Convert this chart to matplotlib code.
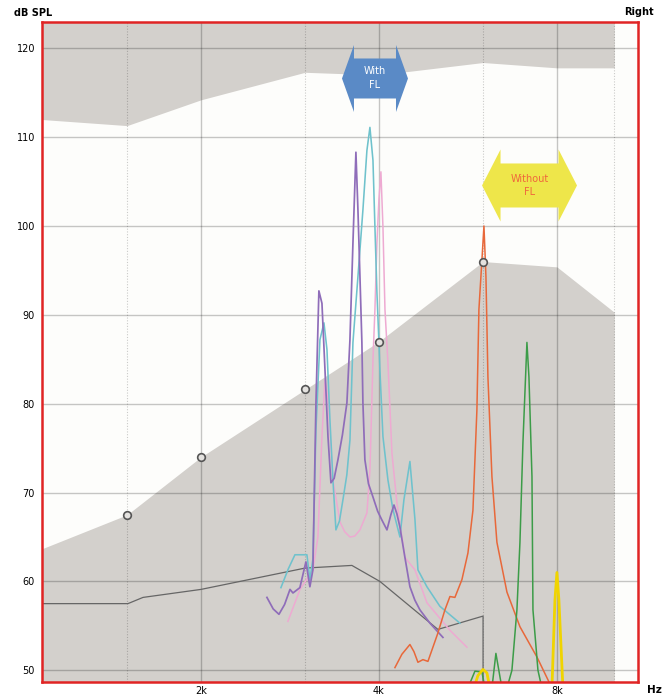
import matplotlib
matplotlib.use('Agg')
import matplotlib.pyplot as plt
from matplotlib.patches import Polygon
from matplotlib.ticker import NullLocator

# shaded bands (Hz / dB SPL)
bandFreq = [1070, 1500, 2000, 3000, 4000, 6000, 8000, 10000]
upperEdge = [112.0, 111.3, 114.2, 117.3, 117.0, 118.4, 117.8, 117.8]
lowerEdge = [63.6, 67.5, 74.0, 81.6, 87.0, 96.0, 95.4, 90.3]

# measured points on the lower band
pointFreq = [1500, 2000, 3000, 4000, 6000]
pointDb = [67.5, 74.0, 81.6, 87.0, 96.0]

# dark gray reference line
refFreq = [1070, 1505, 1596, 2000, 3000, 3600, 4015, 5033, 6000, 6000]
refDb = [57.5, 57.5, 58.2, 59.1, 61.5, 61.8, 60.0, 54.6, 56.1, 48.0]

purpleFreq = [2586, 2650, 2710, 2770, 2829, 2862, 2940, 3010, 3057, 3093, 3130, 3166, 3204,
              3242, 3280, 3318, 3360, 3410, 3470, 3531, 3573, 3615, 3657, 3686, 3715, 3743,
              3758, 3787, 3840, 3908, 3980, 4047, 4127, 4190, 4241, 4290, 4341, 4426, 4513,
              4600, 4692, 4879, 5132]
purpleDb = [58.2, 56.9, 56.3, 57.4, 59.1, 58.7, 59.3, 62.2, 59.4, 61.3, 80.1, 92.7, 91.3,
            83.8, 76.3, 71.1, 71.6, 73.7, 76.5, 80.1, 87.2, 98.1, 108.3, 101.8, 94.3, 86.9,
            80.1, 73.7, 71.0, 69.5, 67.9, 66.9, 65.8, 67.5, 68.6, 67.6, 66.1, 62.7, 59.4,
            57.9, 56.8, 55.3, 53.7]

cyanFreq = [2731, 2810, 2884, 3022, 3057, 3093, 3130, 3179, 3229, 3267, 3305, 3344, 3383,
            3430, 3477, 3530, 3573, 3615, 3686, 3758, 3817, 3862, 3908, 3938, 3969, 4000,
            4015, 4063, 4143, 4224, 4341, 4409, 4513, 4602, 4656, 4822, 5072, 5483]
cyanDb = [59.3, 61.4, 63.0, 63.0, 60.2, 62.5, 77.1, 87.2, 89.1, 86.1, 78.2, 71.4, 65.8,
          66.8, 69.2, 72.0, 75.9, 86.9, 94.3, 101.8, 108.5, 111.1, 107.4, 99.9, 92.5, 86.9,
          83.8, 76.3, 71.4, 68.1, 65.0, 69.2, 73.5, 67.0, 61.3, 59.4, 57.2, 55.3]

pinkFreq = [2806, 2941, 3093, 3154, 3204, 3242, 3280, 3344, 3437, 3500, 3573, 3640, 3715,
            3817, 3862, 3908, 3938, 3969, 4000, 4031, 4063, 4095, 4143, 4208, 4291, 4426,
            4602, 4822, 5274, 5635]
pinkDb = [55.5, 59.1, 61.3, 65.0, 76.3, 82.7, 80.4, 71.4, 66.7, 65.6, 65.0, 65.1, 65.8,
          67.7, 72.5, 84.9, 90.6, 98.1, 103.0, 106.1, 99.9, 90.6, 84.6, 74.4, 68.8, 62.7,
          61.3, 57.6, 54.5, 52.6]

orangeFreq = [4257, 4374, 4513, 4584, 4656, 4748, 4841, 5033, 5172, 5274, 5377, 5526, 5657,
              5768, 5858, 5904, 5974, 6021, 6068, 6115, 6211, 6333, 6585, 6927, 7400, 7846]
orangeDb = [50.3, 51.8, 52.9, 52.1, 50.9, 51.2, 51.0, 54.2, 56.8, 58.3, 58.2, 60.2, 63.2,
            68.0, 79.3, 90.6, 96.2, 100.0, 94.3, 83.0, 71.8, 64.4, 58.8, 54.9, 51.5, 48.0]

greenFreq = [5657, 5813, 5974, 6044, 6211, 6308, 6457, 6585, 6714, 6846, 6927, 7008, 7118,
             7174, 7259, 7287, 7430, 7546]
greenDb = [48.0, 49.9, 49.8, 48.0, 48.0, 51.9, 48.0, 48.0, 50.0, 56.8, 64.4, 75.6, 86.9,
           83.0, 71.8, 56.8, 50.0, 48.0]

yellowFreq = [5790, 5881, 5997, 6091, 6163, 7846, 7938, 8000, 8062, 8189]
yellowDb = [48.0, 49.4, 50.1, 49.7, 48.0, 48.0, 57.9, 61.0, 57.9, 48.0]

yTicks = [50, 60, 70, 80, 90, 100, 110, 120]
xTicks = [2000, 4000, 8000]
xTickLabels = ['2k', '4k', '8k']
solidGrid = [2000, 4000, 8000]
dottedGrid = [1500, 3000, 6000, 10000]

bandGray = '#d3d0cc'

fig = plt.figure(figsize=(6.68, 6.98), dpi=100)
ax = fig.add_axes([42 / 668, 16 / 698, 596 / 668, 660 / 698])
ax.set_facecolor('#fdfdfb')
ax.set_xscale('log')
ax.set_xlim(1077, 10970)
ax.set_ylim(48.68, 122.96)

ax.fill_between(bandFreq, upperEdge, 130, color=bandGray, lw=0, zorder=1)
ax.fill_between(bandFreq, 40, lowerEdge, color=bandGray, lw=0, zorder=1)

# grid is semi-transparent so it reads lighter on white than on the bands
for y in yTicks:
    ax.axhline(y, color='black', alpha=0.22, lw=1.0, zorder=2)
for f in solidGrid:
    ax.axvline(f, color='black', alpha=0.22, lw=1.0, zorder=2)
for f in dottedGrid:
    ax.axvline(f, color='black', alpha=0.2, lw=0.8, ls=(0, (1, 1.5)), zorder=2)

ax.plot(refFreq, refDb, color='#666666', lw=0.9, zorder=3)

ax.plot(pinkFreq, pinkDb, color='#eeaad2', lw=1.1, zorder=4)
ax.plot(cyanFreq, cyanDb, color='#6fc2cc', lw=1.15, zorder=4)
ax.plot(purpleFreq, purpleDb, color='#8f6db9', lw=1.25, zorder=4)
ax.plot(orangeFreq, orangeDb, color='#e8683a', lw=1.1, zorder=4)
ax.plot(greenFreq, greenDb, color='#3c9c48', lw=1.1, zorder=4)
ax.plot(yellowFreq, yellowDb, color='#f0d400', lw=2.0, zorder=4)

ax.plot(pointFreq, pointDb, 'o', ms=5.5, mfc='#e4e2df', mec='#555555', mew=1.2, zorder=5)


def doubleArrow(ax, cx, cy, shaftW, shaftH, headW, headH, color):
    hw, hh = shaftW / 2, shaftH / 2
    pts = [(cx - hw - headW, cy), (cx - hw, cy + headH / 2), (cx - hw, cy + hh),
           (cx + hw, cy + hh), (cx + hw, cy + headH / 2), (cx + hw + headW, cy),
           (cx + hw, cy - headH / 2), (cx + hw, cy - hh), (cx - hw, cy - hh),
           (cx - hw, cy - headH / 2)]
    ax.add_patch(Polygon(pts, closed=True, transform=ax.transAxes,
                         facecolor=color, edgecolor='none', zorder=6))


doubleArrow(ax, 0.5587, 0.9144, 0.0705, 0.0606, 0.0201, 0.1015, '#5a8ac6')
ax.text(0.5587, 0.9144, 'With\nFL', transform=ax.transAxes, ha='center', va='center',
        color='white', fontsize=7, linespacing=1.5, zorder=7)
doubleArrow(ax, 0.818, 0.7523, 0.0973, 0.0667, 0.031, 0.109, '#eee64a')
ax.text(0.818, 0.7523, 'Without\nFL', transform=ax.transAxes, ha='center', va='center',
        color='#f0683c', fontsize=7, linespacing=1.45, zorder=7)

ax.set_yticks(yTicks)
ax.set_yticklabels([str(v) for v in yTicks])
ax.set_xticks(xTicks)
ax.set_xticklabels(xTickLabels)
ax.xaxis.set_minor_locator(NullLocator())
ax.tick_params(axis='both', length=0, labelsize=7, colors='black')
ax.tick_params(axis='y', pad=5)
ax.tick_params(axis='x', pad=3)

for s in ax.spines.values():
    s.set_color('#e02424')
    s.set_linewidth(1.8)
    s.set_zorder(10)

fig.text(33 / 668, 1 - 13 / 698, 'dB SPL', ha='center', va='center', fontsize=7, fontweight='bold')
fig.text(639 / 668, 1 - 12 / 698, 'Right', ha='center', va='center', fontsize=7, fontweight='bold')
fig.text(654 / 668, 1 - 690 / 698, 'Hz', ha='center', va='center', fontsize=7.5, fontweight='bold')

fig.savefig('out.png', dpi=100, facecolor='white')
